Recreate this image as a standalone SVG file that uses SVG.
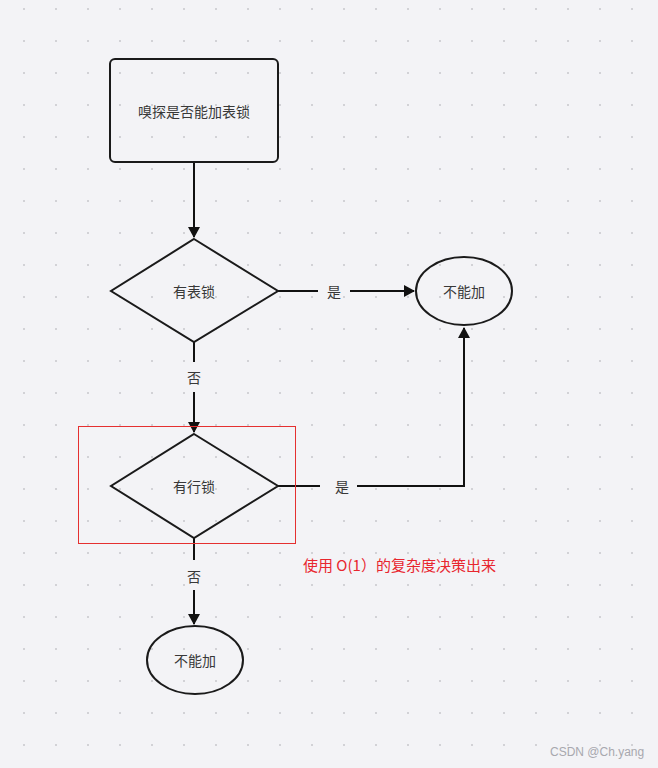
<svg xmlns="http://www.w3.org/2000/svg" width="658" height="768" viewBox="0 0 658 768">
<defs>
<pattern id="dots" x="0" y="0" width="32" height="32" patternUnits="userSpaceOnUse">
<rect x="23" y="8" width="2" height="2" fill="#d2d2d6"/>
</pattern>
<marker id="arr" markerWidth="12" markerHeight="12" refX="10" refY="6" orient="auto" markerUnits="userSpaceOnUse">
<path d="M0,0 L11,6 L0,12 Z" fill="#111"/>
</marker>
<style>
.shape{fill:none;stroke:#1a1a1a;stroke-width:2}
.lbl{font-family:"Noto Sans CJK SC","Liberation Sans",sans-serif;font-size:14px;fill:#383838;text-anchor:middle;dominant-baseline:central}
.edge{fill:none;stroke:#111;stroke-width:2}
</style>
</defs>
<rect width="658" height="768" fill="#f3f3f6"/>
<rect width="658" height="768" fill="url(#dots)"/>
<g id="connectors">
<path class="edge" d="M194,163 L194,237" marker-end="url(#arr)"/>
<path class="edge" d="M278,291 L318,291 M350,291 L414,291" marker-end="url(#arr)"/>
<text class="lbl" x="334" y="291">是</text>
<path class="edge" d="M194,342 L194,362 M194,392 L194,432" marker-end="url(#arr)"/>
<text class="lbl" x="194" y="377">否</text>
<path class="edge" d="M278,486 L320,486 M357,486 L464,486 L464,328" marker-end="url(#arr)"/>
<text class="lbl" x="342" y="486">是</text>
<path class="edge" d="M194,538 L194,560 M194,590 L194,624" marker-end="url(#arr)"/>
<text class="lbl" x="194" y="576">否</text>
</g>
<g id="start">
<rect class="shape" x="110" y="59" width="168" height="103" rx="5"/>
<text class="lbl" x="194" y="111">嗅探是否能加表锁</text>
</g>
<g id="d1">
<path class="shape" d="M194,239 L278,291 L194,342 L111,291 Z"/>
<text class="lbl" x="194" y="291">有表锁</text>
</g>
<g id="e1">
<ellipse class="shape" cx="464" cy="291" rx="48" ry="34"/>
<text class="lbl" x="464" y="291">不能加</text>
</g>
<g id="d2">
<path class="shape" d="M194,434 L278,486 L194,538 L111,486 Z"/>
<text class="lbl" x="194" y="486">有行锁</text>
</g>
<g id="e2">
<ellipse class="shape" cx="195" cy="660" rx="48" ry="34"/>
<text class="lbl" x="195" y="660">不能加</text>
</g>
<g id="highlight">
<rect x="78.5" y="426.5" width="217" height="117" fill="none" stroke="#e53030" stroke-width="1"/>
<text x="303" y="564" style="font-family:'Noto Sans CJK SC','Liberation Sans',sans-serif;font-size:15px;fill:#e8262e;dominant-baseline:central">使用 O(1）的复杂度决策出来</text>
</g>
<text x="550" y="752" style="font-family:'Liberation Sans',sans-serif;font-size:12px;fill:#a8a8ae;dominant-baseline:central">CSDN @Ch.yang</text>
</svg>
